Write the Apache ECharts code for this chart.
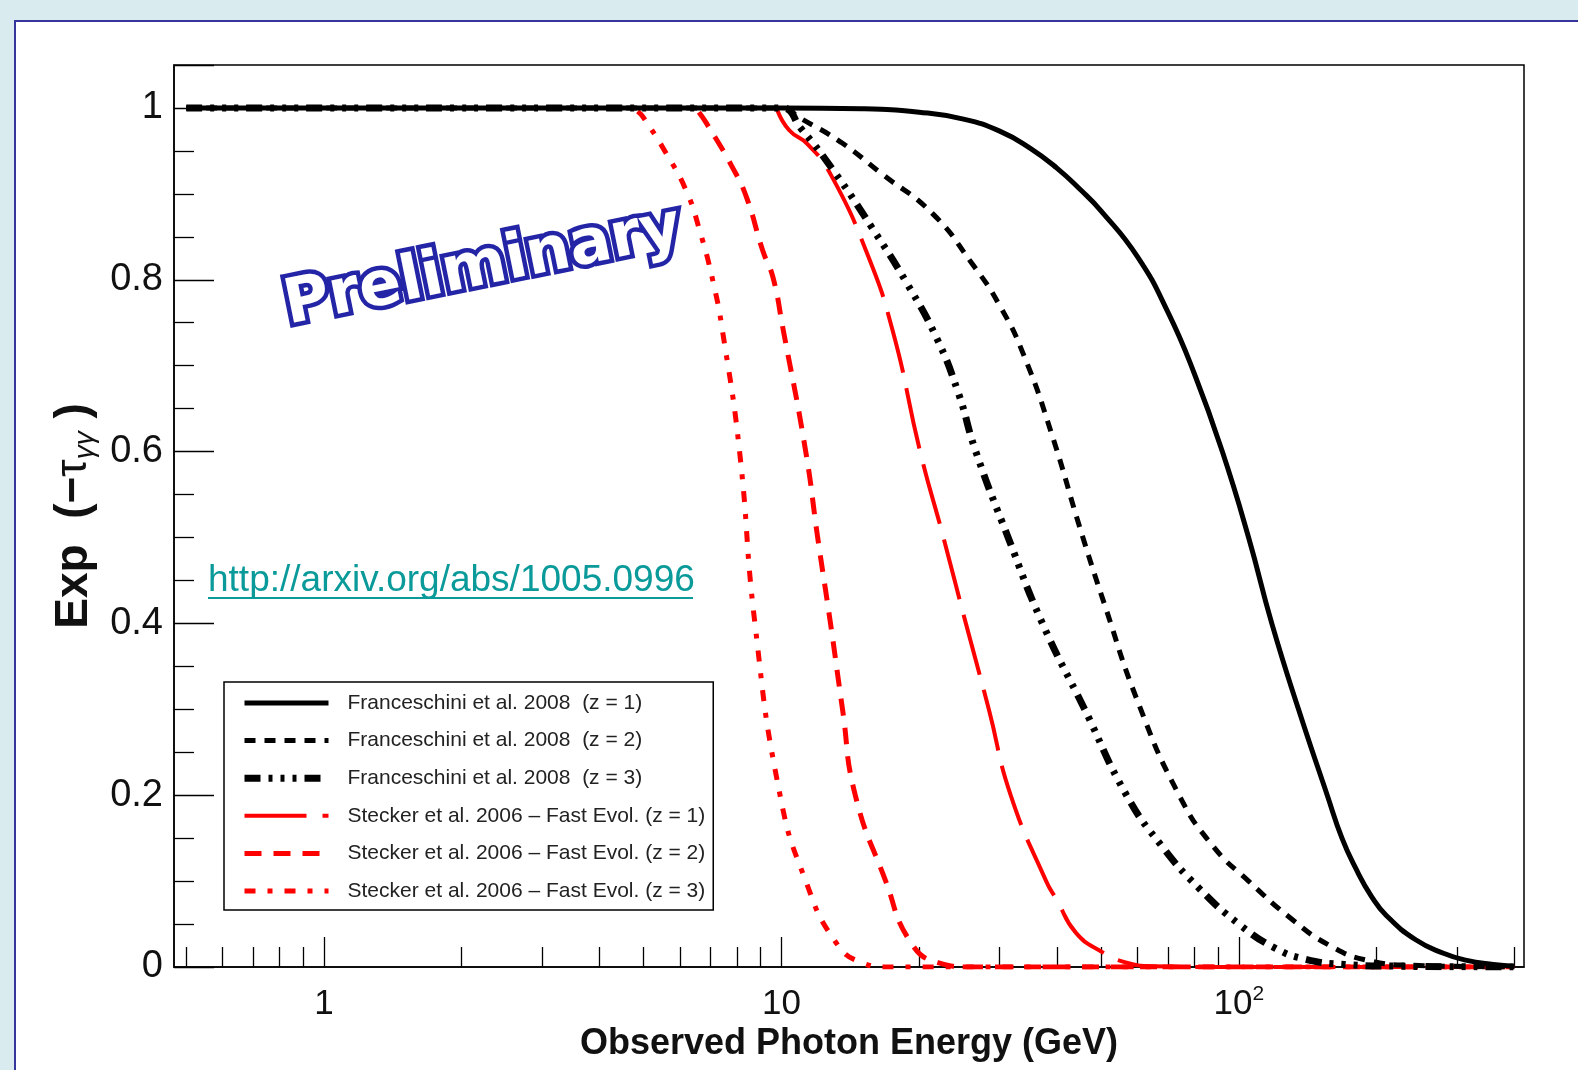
<!DOCTYPE html>
<html>
<head>
<meta charset="utf-8">
<title>EBL attenuation</title>
<script src="https://cdn.jsdelivr.net/npm/echarts@6/dist/echarts.min.js"></script>
<style>
  html, body { margin: 0; padding: 0; background: #d9ebef; overflow: hidden; }
  #panel { position: absolute; left: 14px; top: 20px; width: 1600px; height: 1100px; background: #fff; border: 2px solid #35359b; }
  #chart { position: absolute; left: 0; top: 0; width: 1578px; height: 1070px; }
</style>
</head>
<body>
<div id="panel"></div>
<div id="chart"></div>
<script>
// energies in GeV, values are exp(-tau)
const franceschiniZ1 = [[0.5, 1], [10, 1], [15, 0.999], [20, 0.995], [25, 0.987], [30, 0.973], [35, 0.953],
  [40, 0.93], [45, 0.905], [50, 0.88], [60, 0.827], [70, 0.762], [80, 0.69], [92, 0.6], [105, 0.5], [118, 0.4],
  [135, 0.3], [156, 0.2], [168, 0.15], [180, 0.115], [195, 0.082], [210, 0.06], [243, 0.032], [280, 0.016],
  [313, 0.008], [360, 0.003], [400, 0.001]];
const franceschiniZ2 = [[0.5, 1], [10, 1], [11, 0.988], [13.5, 0.96], [16.6, 0.923], [21.4, 0.877], [26, 0.82],
  [30, 0.77], [34, 0.71], [39, 0.62], [45, 0.51], [51, 0.42], [60, 0.31], [74, 0.2], [88, 0.14], [105, 0.1],
  [131, 0.055], [158, 0.025], [190, 0.008], [240, 0.002], [400, 0]];
const franceschiniZ3 = [[0.5, 1], [10, 1], [11, 0.977], [13, 0.927], [15.8, 0.86], [18.8, 0.796], [21.8, 0.733],
  [24.3, 0.67], [26.6, 0.6], [31.3, 0.5], [37.2, 0.4], [46, 0.3], [56.8, 0.2], [68, 0.14], [81.7, 0.092],
  [100, 0.05], [120, 0.022], [140, 0.009], [170, 0.003], [220, 0.001], [400, 0]];
const steckerZ1 = [[9.8, 0.997], [10.4, 0.974], [11.4, 0.958], [12.8, 0.923], [15.3, 0.834], [17.5, 0.741],
  [20.1, 0.6], [22.6, 0.5], [25.3, 0.4], [28.4, 0.3], [31.7, 0.2], [37.9, 0.1], [40, 0.078], [44, 0.04],
  [50, 0.018], [56, 0.006], [65, 0.001], [100, 0], [400, 0]];
const steckerZ2 = [[6.6, 0.995], [6.86, 0.982], [7.83, 0.93], [8.4, 0.895], [9.1, 0.834], [9.58, 0.803],
  [10.07, 0.744], [11.3, 0.6], [12, 0.5], [12.8, 0.4], [13.6, 0.3], [14.5, 0.2], [16.9, 0.1], [19.1, 0.03],
  [22, 0.005], [26, 0], [400, 0]];
const steckerZ3 = [[4.85, 0.996], [4.99, 0.989], [5.6, 0.947], [6.2, 0.903], [6.62, 0.858], [7.1, 0.796],
  [7.45, 0.737], [8.1, 0.6], [8.75, 0.4], [9.93, 0.2], [11.3, 0.1], [13.1, 0.03], [15, 0.005], [17, 0], [400, 0]];

const seriesNames = [
  'Franceschini et al. 2008  (z = 1)',
  'Franceschini et al. 2008  (z = 2)',
  'Franceschini et al. 2008  (z = 3)',
  'Stecker et al. 2006 \u2013 Fast Evol. (z = 1)',
  'Stecker et al. 2006 \u2013 Fast Evol. (z = 2)',
  'Stecker et al. 2006 \u2013 Fast Evol. (z = 3)'
];
const seriesData = [franceschiniZ1, franceschiniZ2, franceschiniZ3, steckerZ1, steckerZ2, steckerZ3];

const majorTicksX = [1, 10, 100];
const minorTicksX = [0.5, 0.6, 0.7, 0.8, 0.9, 2, 3, 4, 5, 6, 7, 8, 9, 20, 30, 40, 50, 60, 70, 80, 90, 200, 300, 400];

const styles = [
  { color: '#000', width: 5, type: 'solid', z: 4 },
  { color: '#000', width: 5, type: [11, 9], z: 4 },
  { color: '#000', width: 7, type: [16, 8, 4, 8, 4, 8, 4, 8], z: 4 },
  { color: '#f00', width: 4, type: [62, 16], z: 3 },
  { color: '#f00', width: 5, type: [17, 12], z: 3 },
  { color: '#f00', width: 5, type: [11, 12, 5, 12], z: 3 }
];

const sans = '"Liberation Sans", Arial, sans-serif';

const series = seriesData.map((d, i) => ({
  name: seriesNames[i],
  type: 'line',
  data: d,
  symbol: 'none',
  smooth: 0.5,
  z: styles[i].z,
  lineStyle: { color: styles[i].color, width: styles[i].width, type: styles[i].type },
  itemStyle: { color: styles[i].color },
  emphasis: { disabled: true }
}));

const chart = echarts.init(document.getElementById('chart'), null, { renderer: 'canvas' });
chart.setOption({
  animation: false,
  backgroundColor: 'transparent',
  grid: { left: 174, top: 65, width: 1350, height: 902, show: true, borderColor: '#000', borderWidth: 1.5, backgroundColor: 'transparent' },
  legend: {
    orient: 'vertical',
    left: 224,
    top: 682,
    selectedMode: false,
    itemWidth: 84,
    itemHeight: 14,
    itemGap: 13.6,
    padding: [9, 8, 7, 17],
    borderColor: '#000',
    borderWidth: 1.5,
    backgroundColor: '#fff',
    textStyle: { fontFamily: sans, fontSize: 21, color: '#222', lineHeight: 24, padding: [0, 0, 0, 14] },
    data: seriesNames.map((n, i) => ({
      name: n,
      itemStyle: { color: 'rgba(0,0,0,0)', borderWidth: 0 },
      lineStyle: { width: styles[i].width, type: styles[i].type, color: styles[i].color }
    }))
  },
  xAxis: [
    {
      type: 'log', min: 0.47, max: 420, position: 'bottom',
      axisLine: { lineStyle: { color: '#000', width: 1.5 } },
      axisTick: { inside: true, length: 20, customValues: minorTicksX, lineStyle: { color: '#000', width: 1.3 } },
      axisLabel: { show: false },
      splitLine: { show: false }
    },
    {
      type: 'log', min: 0.47, max: 420, position: 'bottom',
      axisLine: { show: false },
      axisTick: { inside: true, length: 30, customValues: majorTicksX, lineStyle: { color: '#000', width: 1.3 } },
      axisLabel: {
        customValues: majorTicksX,
        margin: 17,
        formatter: v => (v === 100 ? '{b|10}{s|2}' : '{b|' + v + '}'),
        rich: {
          b: { fontFamily: sans, fontSize: 35, color: '#111', lineHeight: 40 },
          s: { fontFamily: sans, fontSize: 21, color: '#111', lineHeight: 18, verticalAlign: 'top' }
        }
      },
      splitLine: { show: false },
      name: 'Observed Photon Energy (GeV)',
      nameLocation: 'middle',
      nameGap: 42,
      nameTextStyle: { fontFamily: sans, fontSize: 36, fontWeight: 'bold', color: '#111' }
    }
  ],
  yAxis: {
    type: 'value', min: 0, max: 1.05, interval: 0.2,
    axisLine: { show: true, lineStyle: { color: '#000', width: 1.5 } },
    axisTick: { show: true, inside: true, length: 40, lineStyle: { color: '#000', width: 1.3 } },
    minorTick: { show: true, splitNumber: 4, length: 20, lineStyle: { color: '#000', width: 1.3 } },
    axisLabel: { fontFamily: sans, fontSize: 38, color: '#111', margin: 11, showMaxLabel: false },
    splitLine: { show: false },
    name: '{a|Exp  (\u2212}{t|\u03c4}{s|\u03b3\u03b3}{a| )}',
    nameLocation: 'middle',
    nameRotate: 90,
    nameGap: 66,
    nameTextStyle: {
      rich: {
        a: { fontFamily: sans, fontSize: 46, fontWeight: 'bold', color: '#111', lineHeight: 50 },
        t: { fontFamily: sans, fontSize: 44, color: '#111', lineHeight: 50 },
        s: { fontFamily: sans, fontSize: 28, fontStyle: 'italic', color: '#111', lineHeight: 26, verticalAlign: 'bottom' }
      }
    }
  },
  graphic: [
    {
      type: 'text', left: 208, top: 562, z: 10,
      style: { text: 'http://arxiv.org/abs/1005.0996', fill: '#0b9a9a', font: '37px "Liberation Sans", Arial, sans-serif' }
    },
    {
      type: 'line', z: 10,
      shape: { x1: 208, y1: 598, x2: 693, y2: 598 },
      style: { stroke: '#0b9a9a', lineWidth: 2 }
    },
    {
      type: 'text', x: 483, y: 268, rotation: 0.2, z: 10,
      style: {
        text: 'Preliminary', align: 'center', verticalAlign: 'middle',
        font: 'bold 62px "DejaVu Sans", sans-serif',
        fill: '#fff', stroke: '#2424a6', lineWidth: 9, strokeFirst: true,
        shadowColor: 'rgba(0,0,0,0.45)', shadowBlur: 3, shadowOffsetX: 3, shadowOffsetY: 3
      }
    }
  ],
  series: series
});
</script>
</body>
</html>
